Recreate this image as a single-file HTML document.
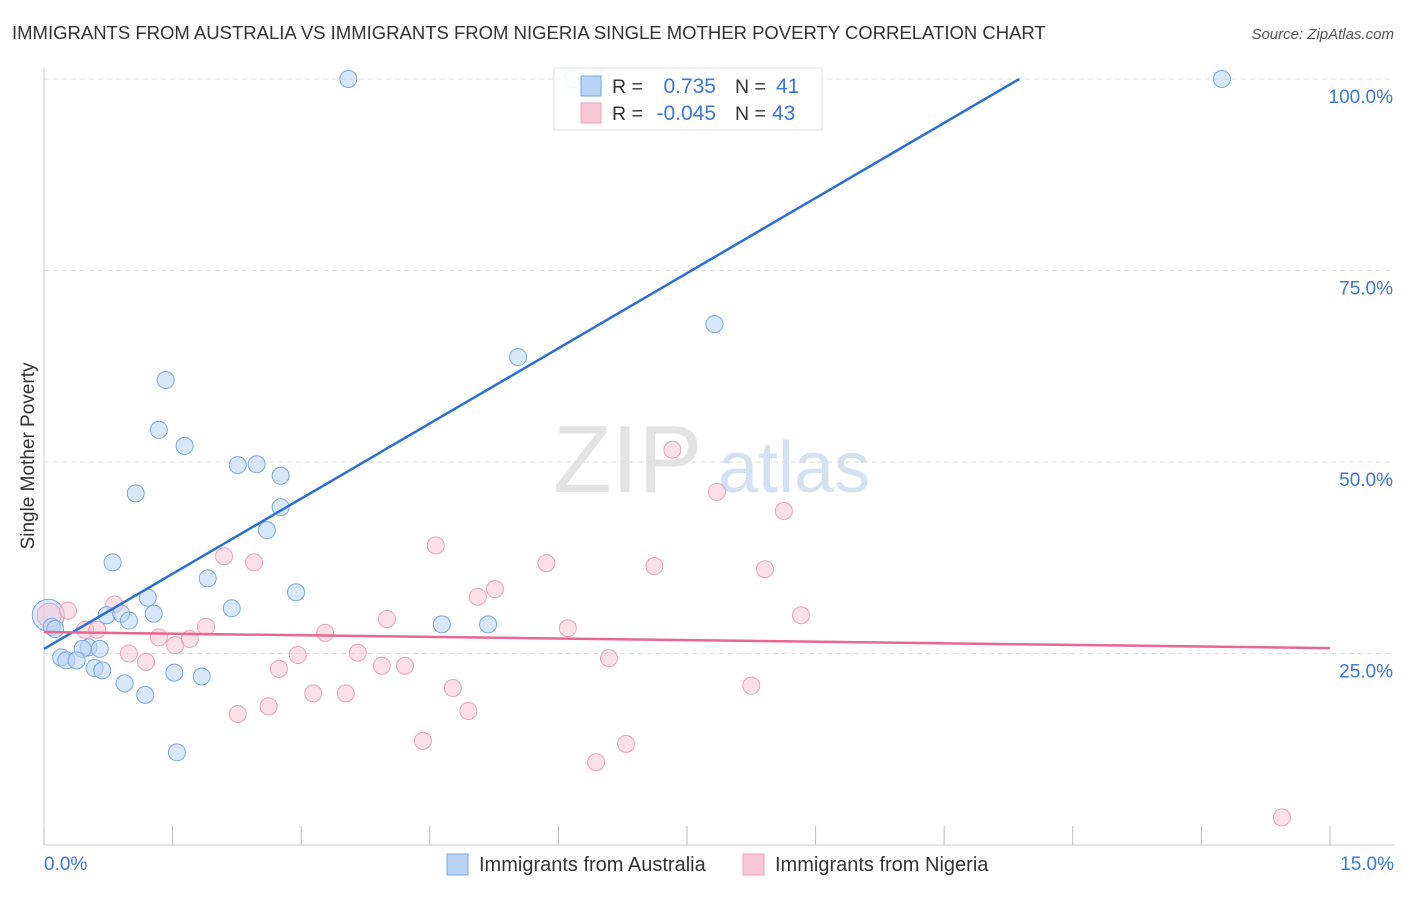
<!DOCTYPE html>
<html><head><meta charset="utf-8"><style>
body{margin:0;background:#fff;font-family:"Liberation Sans",sans-serif;}
svg text{font-family:"Liberation Sans",sans-serif;}
</style></head><body>
<svg id="chart" width="1406" height="892">
<text x="12" y="39" font-size="18.5" fill="#333">IMMIGRANTS FROM AUSTRALIA VS IMMIGRANTS FROM NIGERIA SINGLE MOTHER POVERTY CORRELATION CHART</text>
<text x="1394" y="39" font-size="15" fill="#555" font-style="italic" text-anchor="end">Source: ZipAtlas.com</text>
<text x="34" y="456" font-size="19" fill="#333" transform="rotate(-90 34 456)" text-anchor="middle">Single Mother Poverty</text>
<g><text x="553" y="492" font-size="96" fill="#ddd" font-family="Liberation Serif" opacity="0.8">ZIP</text><text x="718" y="492" font-size="72" fill="#c9daf0" opacity="0.8">atlas</text></g>
<g id="grid"></g><g id="marks"></g>
<g>
<rect x="554" y="68" width="268" height="62" fill="#fff" stroke="#ddd" opacity="0.92"/>
<rect x="581" y="76" width="20" height="20" fill="#b8d3f5" stroke="#7aa8e0"/>
<rect x="581" y="103" width="20" height="20" fill="#f9c6d5" stroke="#eea0b8"/>
<text x="612" y="93" font-size="19.5" fill="#333">R = </text><text x="716" y="93" font-size="21" fill="#3b78d8" text-anchor="end">0.735</text>
<text x="735" y="93" font-size="19.5" fill="#333">N = </text><text x="776" y="93" font-size="21" fill="#3b78d8">41</text>
<text x="612" y="120" font-size="19.5" fill="#333">R = </text><text x="716" y="120" font-size="21" fill="#3b78d8" text-anchor="end">-0.045</text>
<text x="735" y="120" font-size="19.5" fill="#333">N = </text><text x="772" y="120" font-size="21" fill="#3b78d8">43</text>
</g>
<g>
<rect x="447" y="854" width="21" height="21" fill="#b8d3f5" stroke="#7aa8e0"/>
<text x="479" y="871" font-size="20" fill="#333">Immigrants from Australia</text>
<rect x="743" y="854" width="21" height="21" fill="#f9c6d5" stroke="#eea0b8"/>
<text x="775" y="871" font-size="20" fill="#333">Immigrants from Nigeria</text>
</g>
</svg>
<script>
const blueX=[3.55,6.17,6.50,13.74,7.82,5.53,1.42,1.34,1.64,2.26,2.48,2.76,1.07,2.76,2.60,0.80,1.91,2.94,1.21,2.19,0.73,0.90,1.28,0.99,4.64,5.18,0.09,0.13,0.52,0.65,0.45,0.20,0.26,0.38,0.59,0.68,0.94,1.52,1.84,1.18,1.55];
const blueY=[100,100,100,100,68.0,63.7,60.7,54.2,52.1,49.6,49.7,48.2,45.9,44.1,41.1,36.9,34.8,33.0,32.3,30.9,30.0,30.2,30.2,29.3,28.8,28.8,28.5,28.2,25.8,25.6,25.6,24.5,24.1,24.1,23.1,22.8,21.1,22.5,22.0,19.6,12.1];
const pinkX=[0.28,0.82,0.48,0.62,2.10,2.45,1.89,1.34,1.53,1.70,0.99,1.19,3.28,2.96,2.74,3.14,3.52,2.26,2.62,3.66,3.94,4.21,4.00,4.57,5.06,5.26,4.77,4.95,4.42,5.86,6.11,6.59,6.44,6.79,7.33,7.85,7.12,8.41,8.63,8.83,8.25,14.44];
const pinkY=[30.6,31.4,28.1,28.1,37.7,36.9,28.5,27.1,26.1,26.9,25.0,23.9,27.7,24.8,23.0,19.8,19.8,17.1,18.1,25.1,23.4,23.4,29.5,39.1,32.4,33.4,20.5,17.5,13.6,36.8,28.3,24.4,10.8,13.2,51.6,46.1,36.4,36.0,43.6,30.0,20.8,3.6];
const blueBig=[0.05,30.0], pinkBig=[0.06,30.0];
const blueTrend=[25.6,6.54], pinkTrend=[27.8,-0.14];
const yTicks=[25,50,75,100];
const xTicks=[0,1.5,3,4.5,6,7.5,9,10.5,12,13.5,15];
const X=v=>44+v*85.73, Y=v=>845-v*7.66;
const NS="http://www.w3.org/2000/svg";
function mk(t,a,p){const e=document.createElementNS(NS,t);for(const k in a)e.setAttribute(k,a[k]);p.appendChild(e);return e;}
const g=document.getElementById('grid'), m=document.getElementById('marks');
for(const t of yTicks){
 const l=mk('line',{x1:44,x2:1394,y1:Y(t),y2:Y(t),stroke:'#ddd','stroke-dasharray':'5,4'},g);
 
 
 const tx=mk('text',{x:1393,y:Y(t)+24,'font-size':19,fill:'#3b78d8','text-anchor':'end'},g);tx.textContent=t.toFixed(1)+'%';
 
 
}
mk('line',{x1:44,x2:44,y1:68,y2:845,stroke:'#ccc'},g);
mk('line',{x1:44,x2:1394,y1:845,y2:845,stroke:'#ccc'},g);
for(const t of xTicks){const l=mk('line',{x1:X(t),x2:X(t),y1:826,y2:845,stroke:'#bbb'},g);
 
 }
const x0=mk('text',{x:44,y:870,'font-size':19,fill:'#3b78d8'},g);x0.textContent='0.0%';


const x1=mk('text',{x:1394,y:870,'font-size':19,fill:'#3b78d8','text-anchor':'end'},g);x1.textContent='15.0%';


function dots(xs,ys,fill,stroke,name){for(let i=0;i<xs.length;i++){const c=mk('circle',{cx:X(xs[i]),cy:Y(ys[i]),r:8.5,fill:fill,'fill-opacity':0.55,stroke:stroke,'stroke-width':1},m);
 
 }}
const bb=mk('circle',{cx:X(blueBig[0]),cy:Y(blueBig[1]),r:16,fill:'#b8d3f5','fill-opacity':0.5,stroke:'#7aa8e0'},m);


const pb=mk('circle',{cx:X(pinkBig[0]),cy:Y(pinkBig[1]),r:12,fill:'#f9c6d5','fill-opacity':0.5,stroke:'#eea0b8'},m);


dots(pinkX,pinkY,'#f9c6d5','#eea0b8','nigeria-point');
dots(blueX,blueY,'#b8d3f5','#7aa8e0','australia-point');
const bEnd=(100-blueTrend[0])/blueTrend[1];
const bl=mk('line',{x1:X(0),y1:Y(blueTrend[0]),x2:X(bEnd),y2:Y(100),stroke:'#2a6fd6','stroke-width':2.5},m);


const pl=mk('line',{x1:X(0),y1:Y(pinkTrend[0]),x2:X(15),y2:Y(pinkTrend[0]+15*pinkTrend[1]),stroke:'#e8668f','stroke-width':2.5},m);


</script>
</body></html>
